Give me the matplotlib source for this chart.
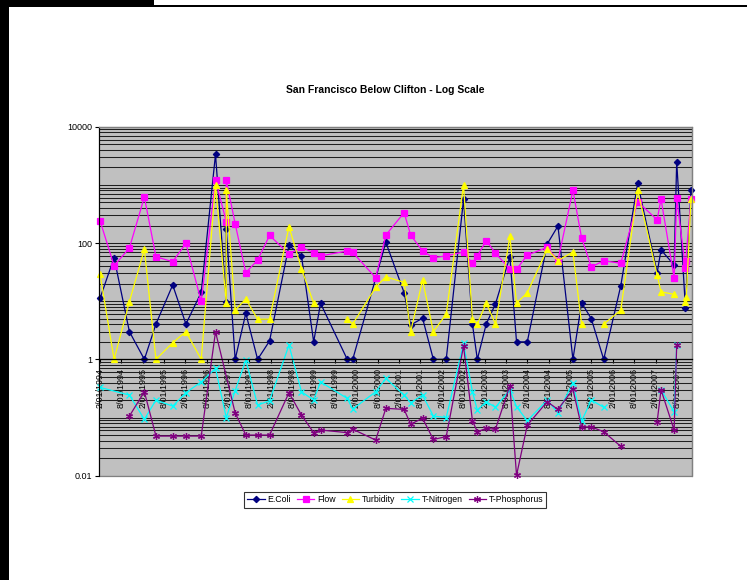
"""San Francisco Below Clifton - log scale line chart (Excel style)."""

import matplotlib
matplotlib.use('Agg')
import matplotlib.pyplot as plt
import matplotlib.dates as mdates
from matplotlib.patches import Rectangle
from matplotlib.ticker import (FixedLocator, FixedFormatter, LogLocator,
                               FuncFormatter, NullFormatter)
import numpy as np
import pandas as pd

plt.rcParams['font.family'] = ['Liberation Sans', 'DejaVu Sans']

# ---- data ----
ecoli_dates = ['1994-02-01', '1994-06-01', '1994-10-10', '1995-02-15', '1995-05-25', '1995-10-15',
               '1996-02-05', '1996-06-15', '1996-10-15', '1997-01-15', '1997-01-15', '1997-04-01',
               '1997-07-01', '1997-10-10', '1998-01-20', '1998-07-05', '1998-10-20', '1999-02-01',
               '1999-04-01', '1999-11-15', '2000-01-01', '2000-10-10', '2001-03-15', '2001-05-10',
               '2001-08-20', '2001-11-20', '2002-03-10', '2002-08-05', '2002-10-20', '2002-12-01',
               '2003-02-15', '2003-05-05', '2003-09-05', '2003-11-01', '2004-02-01', '2004-07-20',
               '2004-10-20', '2005-02-25', '2005-05-10', '2005-08-01', '2005-11-15', '2006-04-10',
               '2006-09-01', '2007-02-15', '2007-03-20', '2007-07-10', '2007-08-01', '2007-10-15',
               '2007-12-01']
ecoli_vals = [11.2, 56, 3.0, 1, 4.05, 19,
              4.05, 14.2, 3350, 9.8, 174, 1,
              6.2, 1, 2.07, 91, 60, 2.0,
              9.2, 1, 1, 103, 14, 3.9,
              5.1, 1, 1, 560, 4.05, 1,
              4.05, 9.0, 58, 2.0, 2.0, 96,
              196, 1, 9.4, 5.0, 1, 18.4,
              1063, 31, 76, 42, 2500, 7.5,
              815]

flow_dates = ['1994-02-01', '1994-06-01', '1994-10-10', '1995-02-15', '1995-05-25', '1995-10-15',
              '1996-02-05', '1996-06-15', '1996-10-15', '1997-01-15', '1997-01-15', '1997-04-01',
              '1997-07-01', '1997-10-10', '1998-01-20', '1998-07-05', '1998-10-20', '1999-02-01',
              '1999-04-01', '1999-11-15', '2000-01-01', '2000-07-15', '2000-10-10', '2001-03-15',
              '2001-05-10', '2001-08-20', '2001-11-20', '2002-03-10', '2002-08-05', '2002-10-20',
              '2002-12-01', '2003-02-15', '2003-05-05', '2003-09-05', '2003-11-01', '2004-02-01',
              '2004-07-20', '2004-10-20', '2005-02-25', '2005-05-10', '2005-08-01', '2005-11-15',
              '2006-04-10', '2006-09-01', '2007-02-15', '2007-03-20', '2007-07-10', '2007-08-01',
              '2007-10-15', '2007-10-17', '2007-12-01']
flow_vals = [242, 40.8, 82, 618, 58, 47.8,
             98.7, 9.9, 1211, 233, 1211, 215,
             30.9, 51, 135, 65, 84, 68,
             60, 73, 69, 25.3, 137, 333,
             137, 73, 56, 60, 70, 44.7,
             60, 110, 67, 35.5, 35.5, 62,
             84, 50, 806, 123, 38.7, 49.6,
             44.8, 513, 251, 571, 25.3, 594,
             36.7, 49.6, 565]

turb_dates = ['1994-02-01', '1994-06-01', '1994-10-10', '1995-02-15', '1995-05-25', '1995-10-15',
              '1996-02-05', '1996-06-15', '1996-10-15', '1997-01-15', '1997-01-15', '1997-04-01',
              '1997-07-01', '1997-10-10', '1998-01-20', '1998-07-05', '1998-10-20', '1999-02-01',
              '1999-07-01', '1999-11-15', '2000-01-01', '2000-07-15', '2000-10-10', '2001-03-15',
              '2001-05-10', '2001-08-20', '2001-11-20', '2002-03-10', '2002-08-05', '2002-10-20',
              '2002-12-01', '2003-02-15', '2003-05-05', '2003-09-05', '2003-11-01', '2004-02-01',
              '2004-07-20', '2004-10-20', '2005-02-25', '2005-05-10', '2005-08-15', '2005-11-15',
              '2006-04-10', '2006-09-01', '2007-02-15', '2007-03-20', '2007-07-10', '2007-09-01',
              '2007-10-15', '2007-10-22', '2007-12-01']
turb_vals = [29.3, 1, 9.8, 78, 1, 1.93,
             3.0, 1, 994, 9.4, 815, 7.0,
             10.9, 4.9, 4.9, 191, 36, 9.2,
             None, 4.9, 4.05, 17.3, 26.3, 21,
             3.0, 23, 3.0, 6.0, 994, 4.9,
             4.05, 9.3, 4.05, 130, 9.2, 14,
             78, 50, 70, 4.05, None, 4.05,
             7.0, 815, 28, 14.5, 13.1, None,
             9.5, 11.6, 565]

nitro_dates = ['1994-02-01', '1994-10-10', '1995-02-15', '1995-05-25', '1995-10-15', '1996-02-05',
               '1996-06-15', '1996-10-15', '1997-01-15', '1997-04-01', '1997-07-01', '1997-10-10',
               '1998-01-20', '1998-07-05', '1998-10-20', '1999-02-01', '1999-04-01', '1999-11-15',
               '2000-01-01', '2000-07-15', '2000-10-10', '2001-03-15', '2001-05-10', '2001-08-20',
               '2001-11-20', '2002-03-10', '2002-08-05', '2002-10-20', '2002-12-01', '2003-02-15',
               '2003-05-05', '2003-09-05', '2003-11-01', '2004-02-01', '2004-07-20', '2004-10-20',
               '2005-02-25', '2005-05-10', '2005-08-01', '2005-11-15', '2006-06-01', '2007-03-20',
               '2007-07-10', '2007-08-01']
nitro_vals = [0.33, 0.243, 0.093, 0.20, 0.157, 0.267,
              0.41, 0.70, 0.10, 0.29, 0.97, 0.164,
              0.194, 1.76, 0.277, 0.20, 0.41, 0.213,
              0.14, 0.277, 0.47, 0.243, 0.18, 0.243,
              0.106, 0.10, 1.88, 0.277, 0.134, 0.187,
              0.15, 0.30, 0.153, 0.088, 0.20, 0.12,
              0.40, 0.087, 0.20, 0.15, None, 0.30,
              0.126, 1.76]

phos_dates = ['1994-10-10', '1995-02-15', '1995-05-25', '1995-10-15', '1996-02-05', '1996-06-15',
              '1996-10-15', '1997-04-01', '1997-07-01', '1997-10-10', '1998-01-20', '1998-07-05',
              '1998-10-20', '1999-02-01', '1999-04-01', '1999-11-15', '2000-01-01', '2000-07-15',
              '2000-10-10', '2001-03-15', '2001-05-10', '2001-08-20', '2001-11-20', '2002-03-10',
              '2002-08-05', '2002-10-20', '2002-12-01', '2003-02-15', '2003-05-05', '2003-09-05',
              '2003-11-01', '2004-02-01', '2004-07-20', '2004-10-20', '2005-02-25', '2005-05-10',
              '2005-08-01', '2005-11-15', '2006-04-10', '2006-10-01', '2007-02-15', '2007-03-20',
              '2007-07-10', '2007-08-01']
phos_vals = [0.106, 0.277, 0.048, 0.048, 0.048, 0.048,
             2.98, 0.12, 0.050, 0.050, 0.050, 0.267,
             0.11, 0.055, 0.061, 0.055, 0.063, 0.041,
             0.144, 0.138, 0.077, 0.097, 0.042, 0.047,
             1.69, 0.088, 0.057, 0.065, 0.063, 0.355,
             0.0102, 0.074, 0.187, 0.138, 0.305, 0.069,
             0.069, 0.057, 0.032, None, 0.085, 0.30,
             0.061, 1.76]

series = [
    ('E.Coli', ecoli_dates, ecoli_vals, '#000080', 'D', 3.2),
    ('Flow', flow_dates, flow_vals, '#FF00FF', 's', 4.2),
    ('Turbidity', turb_dates, turb_vals, '#FFFF00', '^', 4.2),
    ('T-Nitrogen', nitro_dates, nitro_vals, '#00FFFF', 'x', 4.0),
    ('T-Phosphorus', phos_dates, phos_vals, '#800080', (6, 2, 0), 5.0),
]

# ---- figure ----
fig = plt.figure(figsize=(7.47, 5.8), dpi=100)
fig.patch.set_facecolor('white')
ax = fig.add_axes([0.1325, 0.1798, 0.7939, 0.6018])
ax.set_facecolor('#C0C0C0')

handles = []
for name, dates, vals, color, marker, ms in series:
    x = pd.to_datetime(dates)
    y = np.array([np.nan if v is None else v for v in vals], dtype=float)
    line, = ax.plot(x, y, color=color, lw=0.9, marker=marker, ms=ms,
                    mfc=color, mec=color, mew=0.9, label=name, clip_on=False)
    handles.append(line)

ax.set_yscale('log')
ax.set_ylim(0.01, 10000)
ax.set_xlim(pd.Timestamp('1994-01-23'), pd.Timestamp('2007-12-10'))

# y axis: labels every two decades, gridlines at every 1..9 x 10^k
major_y = [0.01, 1, 100, 10000]
ax.yaxis.set_major_locator(FixedLocator(major_y))
ax.yaxis.set_major_formatter(FixedFormatter(['0.01', '1', '100', '10000']))
ax.yaxis.set_minor_locator(LogLocator(base=10, subs=np.arange(1, 10), numticks=50))
ax.yaxis.set_minor_formatter(NullFormatter())
ax.tick_params(axis='y', which='major', direction='out', length=3, width=0.8,
               labelsize=6.5, pad=2)
ax.tick_params(axis='y', which='minor', length=0)
ax.grid(True, which='both', axis='y', color='#202020', lw=0.75)
ax.set_axisbelow(True)

# x axis crosses at y = 1, date labels every 6 months
ax.spines['bottom'].set_position(('data', 1.0))
ax.spines['bottom'].set_color('black')
ax.spines['bottom'].set_linewidth(0.9)
ax.xaxis.set_major_locator(mdates.MonthLocator(bymonth=[2, 8], bymonthday=1))
ax.xaxis.set_major_formatter(FuncFormatter(
    lambda v, pos: '{}/01/{}'.format(mdates.num2date(v).month, mdates.num2date(v).year)))
ax.tick_params(axis='x', which='major', direction='out', length=3, width=0.8,
               labelsize=6.5, pad=3)
for lab in ax.get_xticklabels():
    lab.set_rotation(90)
    lab.set_va('top')
    lab.set_ha('center')

ax.spines['left'].set_color('black')
ax.spines['left'].set_linewidth(0.8)
for s in ('top', 'right'):
    ax.spines[s].set_color('#808080')
    ax.spines[s].set_linewidth(0.9)
ax.add_patch(Rectangle((0, 0), 1, 1, transform=ax.transAxes, fill=False,
                       ec='#808080', lw=0.9, zorder=0.5, clip_on=False))

fig.text(0.516, 0.845, 'San Francisco Below Clifton - Log Scale',
         ha='center', va='center', fontsize=7.5, fontweight='bold')

leg = fig.legend(handles, [h.get_label() for h in handles], loc='center',
                 bbox_to_anchor=(0.529, 0.138), ncol=5, fontsize=6.3,
                 frameon=True, fancybox=False, edgecolor='black',
                 handlelength=2.0, handletextpad=0.3, columnspacing=0.7,
                 borderpad=0.35, borderaxespad=0)
leg.get_frame().set_linewidth(0.8)

# black page edges of the original screenshot
fig.add_artist(Rectangle((0, 0), 9 / 747, 1, transform=fig.transFigure,
                         color='black', lw=0))
fig.add_artist(Rectangle((0, 1 - 6 / 580), 154 / 747, 6 / 580,
                         transform=fig.transFigure, color='black', lw=0))
fig.add_artist(Rectangle((0, 1 - 7 / 580), 1, 2 / 580,
                         transform=fig.transFigure, color='black', lw=0))

fig.savefig('out.png', dpi=100)
